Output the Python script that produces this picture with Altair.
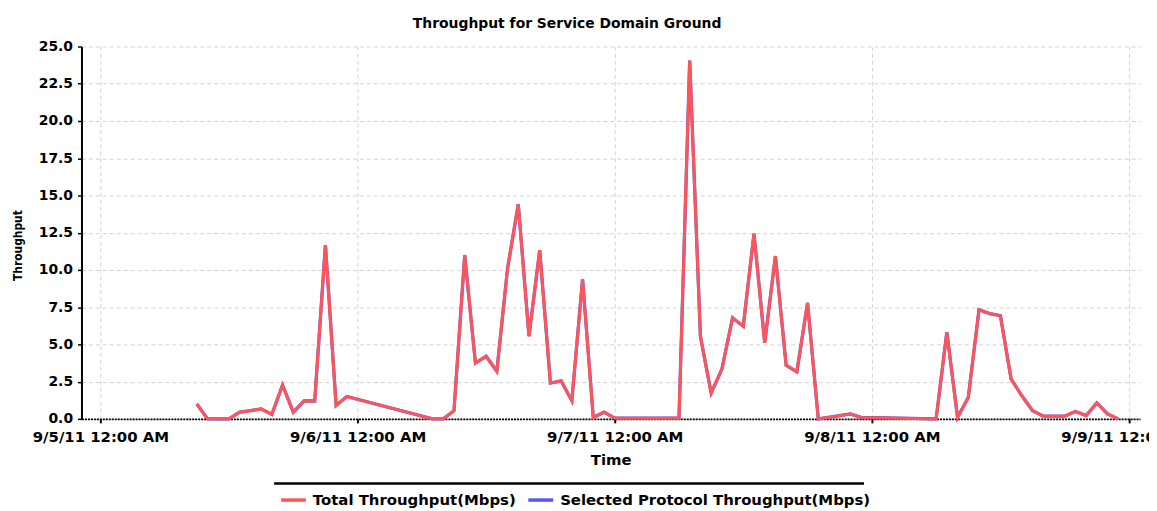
import altair as alt
import pandas as pd

# Sample times (UTC) and throughput values
times = [
    "2011-09-05T09:00", "2011-09-05T10:00", "2011-09-05T11:00", "2011-09-05T12:00",
    "2011-09-05T13:00", "2011-09-05T14:00", "2011-09-05T15:00", "2011-09-05T16:00",
    "2011-09-05T17:00", "2011-09-05T18:00", "2011-09-05T19:00", "2011-09-05T20:00",
    "2011-09-05T21:00", "2011-09-05T22:00", "2011-09-05T23:00",
    "2011-09-06T07:00", "2011-09-06T08:00", "2011-09-06T09:00", "2011-09-06T10:00",
    "2011-09-06T11:00", "2011-09-06T12:00", "2011-09-06T13:00", "2011-09-06T14:00",
    "2011-09-06T15:00", "2011-09-06T16:00", "2011-09-06T17:00", "2011-09-06T18:00",
    "2011-09-06T19:00", "2011-09-06T20:00", "2011-09-06T21:00", "2011-09-06T22:00",
    "2011-09-06T23:00",
    "2011-09-07T00:00", "2011-09-07T06:00", "2011-09-07T07:00", "2011-09-07T08:00",
    "2011-09-07T09:00", "2011-09-07T10:00", "2011-09-07T11:00", "2011-09-07T12:00",
    "2011-09-07T13:00", "2011-09-07T14:00", "2011-09-07T15:00", "2011-09-07T16:00",
    "2011-09-07T17:00", "2011-09-07T18:00", "2011-09-07T19:00", "2011-09-07T21:00",
    "2011-09-07T22:00", "2011-09-07T23:00",
    "2011-09-08T06:00", "2011-09-08T07:00", "2011-09-08T08:00", "2011-09-08T09:00",
    "2011-09-08T10:00", "2011-09-08T11:00", "2011-09-08T12:00", "2011-09-08T13:00",
    "2011-09-08T14:00", "2011-09-08T15:00", "2011-09-08T16:00", "2011-09-08T18:00",
    "2011-09-08T19:00", "2011-09-08T20:00", "2011-09-08T21:00", "2011-09-08T22:00",
    "2011-09-08T23:00",
]

total_mbps = [
    1.0, 0.0, 0.0, 0.0,
    0.45, 0.55, 0.67, 0.3,
    2.27, 0.45, 1.2, 1.2,
    11.67, 0.9, 1.5,
    0.0, 0.0, 0.55, 11.0,
    3.75, 4.2, 3.2, 10.1,
    14.4, 5.55, 11.33, 2.4,
    2.55, 1.22, 9.38, 0.1,
    0.45,
    0.05, 0.05, 24.05, 5.55,
    1.73, 3.33, 6.78, 6.22,
    12.44, 5.11, 10.93, 3.6,
    3.16, 7.78, 0.0, 0.22,
    0.33, 0.1,
    0.0, 5.82, 0.1, 1.44,
    7.33, 7.07, 6.93, 2.67,
    1.55, 0.55, 0.18, 0.18,
    0.5, 0.22, 1.07, 0.33,
    0.0,
]

selected_mbps = list(total_mbps)

series_names = ["Total Throughput(Mbps)", "Selected Protocol Throughput(Mbps)"]
series_colors = ["#FF5555", "#5555FF"]

y_ticks = [0, 2.5, 5, 7.5, 10, 12.5, 15, 17.5, 20, 22.5, 25]
day_ticks = [5, 6, 7, 8, 9]

n = len(times)
df = pd.DataFrame({
    "time": [t + ":00Z" for t in times] * 2,
    "series": [series_names[0]] * n + [series_names[1]] * n,
    "value": total_mbps + selected_mbps,
})

x_enc = alt.X(
    "time:T",
    scale=alt.Scale(
        type="utc",
        domain=[
            alt.DateTime(year=2011, month=9, date=4, hours=22, minutes=14, utc=True),
            alt.DateTime(year=2011, month=9, date=9, hours=1, minutes=2, utc=True),
        ],
    ),
    axis=alt.Axis(
        values=[alt.DateTime(year=2011, month=9, date=d, hours=0, utc=True) for d in day_ticks],
        labelExpr="utcFormat(datum.value, '%-m/%-d/%y %-I:%M %p')",
        title="Time",
        labelFont="DejaVu Sans",
        labelFontSize=15,
        labelFontWeight="bold",
        labelColor="black",
        labelPadding=7,
        labelOverlap=False,
        labelFlush=False,
        titleFont="DejaVu Sans",
        titleFontSize=15,
        titleFontWeight="bold",
        titleColor="black",
        titlePadding=8,
        tickColor="black",
        tickWidth=2,
        tickSize=4,
        domainColor="black",
        domainWidth=2,
        domainDash=[2, 1],
        grid=True,
        gridColor="#d2d2d2",
        gridDash=[4, 3],
        gridWidth=1,
    ),
)

y_enc = alt.Y(
    "value:Q",
    scale=alt.Scale(domain=[0, 25], nice=False),
    axis=alt.Axis(
        values=y_ticks,
        format=".1f",
        title="Throughput",
        labelFont="DejaVu Sans",
        labelFontSize=14,
        labelFontWeight="bold",
        labelColor="black",
        labelPadding=5,
        titleFont="DejaVu Sans Condensed, DejaVu Sans",
        titleFontSize=12,
        titleFontWeight="bold",
        titleColor="black",
        titleX=-64,
        titleY=200,
        titleAngle=270,
        titleAlign="center",
        titleBaseline="middle",
        tickColor="black",
        tickWidth=1.5,
        tickSize=4,
        domainColor="black",
        domainWidth=2,
        grid=True,
        gridColor="#d2d2d2",
        gridDash=[4, 3],
        gridWidth=1,
    ),
)

color_enc = alt.Color(
    "series:N",
    scale=alt.Scale(domain=series_names, range=series_colors),
    legend=alt.Legend(
        title=None,
        orient="none",
        legendX=199,
        legendY=442,
        direction="horizontal",
        symbolType="stroke",
        symbolSize=625,
        symbolStrokeWidth=3.5,
        labelFont="DejaVu Sans",
        labelFontSize=15,
        labelFontWeight="bold",
        labelColor="black",
        labelOffset=5,
        columnPadding=5,
        labelLimit=0,
    ),
)

base = alt.Chart(df).encode(x=x_enc, y=y_enc, color=color_enc)

blue_line = base.transform_filter(alt.datum.series == series_names[1]).mark_line(strokeWidth=3.3)
red_line = base.transform_filter(alt.datum.series == series_names[0]).mark_line(strokeWidth=3.0)

legend_rule = alt.Chart(pd.DataFrame({"a": [0]})).mark_rule(color="black", strokeWidth=2.5).encode(
    x=alt.value(194), x2=alt.value(788), y=alt.value(440)
)

chart = alt.layer(blue_line, red_line, legend_rule).properties(
    width=1066,
    height=375,
    padding={"left": 74, "top": 37, "right": 9, "bottom": 90},
    autosize=alt.AutoSizeParams(type="none"),
    background="white",
    title=alt.TitleParams(
        "Throughput for Service Domain Ground",
        font="DejaVu Sans",
        fontSize=14,
        fontWeight="bold",
        color="black",
        anchor="middle",
        dx=-44,
        offset=9,
    ),
).configure_view(stroke=None)

chart.save("out.html", embed_options={"renderer": "svg", "actions": False})
